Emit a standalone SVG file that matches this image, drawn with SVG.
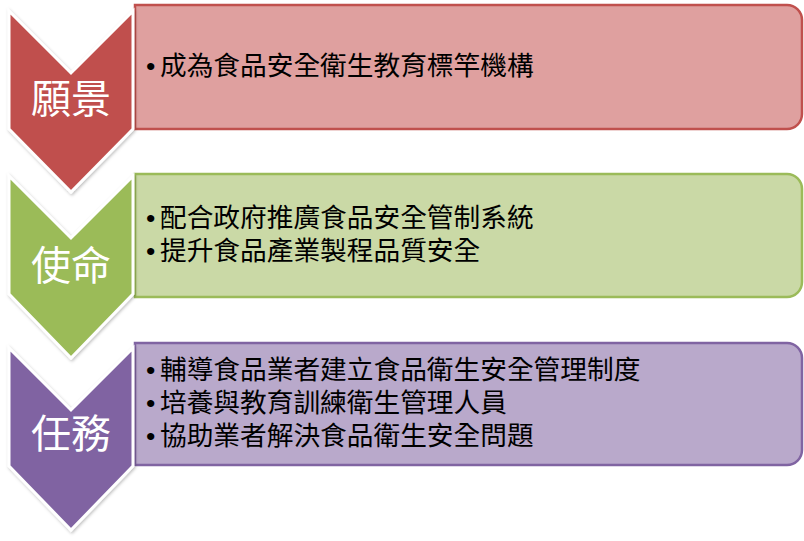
<svg xmlns="http://www.w3.org/2000/svg" width="804" height="541" viewBox="0 0 804 541">
<style>
.chev{stroke:#ffffff;stroke-width:3;stroke-linejoin:miter;filter:url(#sh)}
.box{stroke-width:2.5}
.lbl{font-family:"Noto Sans CJK TC","Noto Sans CJK SC",sans-serif;font-size:40px;fill:#ffffff;text-anchor:middle}
.txt{font-family:"Noto Sans CJK TC","Noto Sans CJK SC",sans-serif;font-size:26.7px;fill:#000000}
.bul{font-family:"Liberation Sans",sans-serif}
</style>
<defs>
<filter id="sh" x="-20%" y="-20%" width="140%" height="140%">
<feDropShadow dx="1" dy="1.5" stdDeviation="1.5" flood-color="#000000" flood-opacity="0.25"/>
</filter>
</defs>
<rect width="804" height="541" fill="#ffffff"/>
<g id="box1">
<path class="box" d="M135,5 H787 A15,15 0 0 1 802,20 V114 A15,15 0 0 1 787,129 H135 Z" fill="#DFA09F" stroke="#C0504D"/>
<text class="txt"><tspan class="bul" x="146" y="75">•</tspan><tspan x="160" y="75">成為食品安全衛生教育標竿機構</tspan></text>
</g>
<g id="box2">
<path class="box" d="M135,174 H787 A15,15 0 0 1 802,189 V282 A15,15 0 0 1 787,297 H135 Z" fill="#CAD9A6" stroke="#9BBB59"/>
<text class="txt"><tspan class="bul" x="146" y="227">•</tspan><tspan x="160" y="227">配合政府推廣食品安全管制系統</tspan><tspan class="bul" x="146" y="260">•</tspan><tspan x="160" y="260">提升食品產業製程品質安全</tspan></text>
</g>
<g id="box3">
<path class="box" d="M135,343 H787 A15,15 0 0 1 802,358 V450 A15,15 0 0 1 787,465 H135 Z" fill="#B9A9CB" stroke="#8064A2"/>
<text class="txt"><tspan class="bul" x="146" y="379">•</tspan><tspan x="160" y="379">輔導食品業者建立食品衛生安全管理制度</tspan><tspan class="bul" x="146" y="412">•</tspan><tspan x="160" y="412">培養與教育訓練衛生管理人員</tspan><tspan class="bul" x="146" y="445">•</tspan><tspan x="160" y="445">協助業者解決食品衛生安全問題</tspan></text>
</g>
<g id="chevron1">
<path class="chev" d="M9,11 L71,73 L133,11 V129 L71,192 L9,129 Z" fill="#C0504D"/>
<text class="lbl" x="71" y="113">願景</text>
</g>
<g id="chevron2">
<path class="chev" d="M9,176 L71,238 L133,176 V294 L71,358 L9,294 Z" fill="#9BBB59"/>
<text class="lbl" x="71" y="280">使命</text>
</g>
<g id="chevron3">
<path class="chev" d="M9,348 L71,410 L133,348 V466 L71,530 L9,466 Z" fill="#8064A2"/>
<text class="lbl" x="71" y="448">任務</text>
</g>
<g id="connectors"></g>
</svg>
